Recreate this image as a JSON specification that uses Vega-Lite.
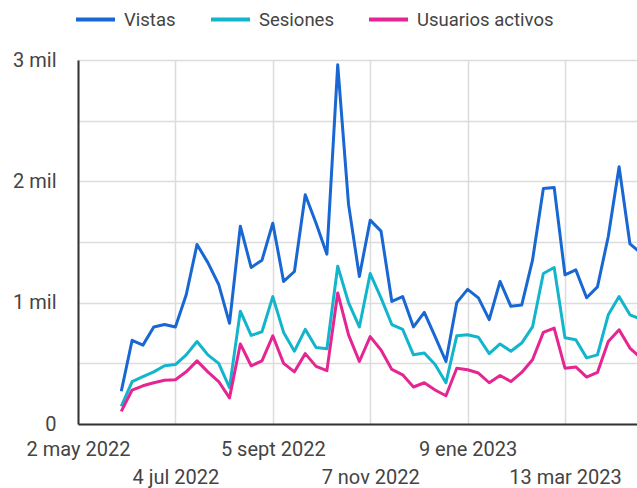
{
  "$schema": "https://vega.github.io/schema/vega-lite/v6.json",
  "width": 559,
  "height": 364,
  "autosize": "none",
  "padding": {"left": 78, "top": 60, "right": 0, "bottom": 64},
  "background": "white",
  "config": {
    "font": "Roboto",
    "view": {"stroke": null}
  },
  "data": {
    "values": [
      {"fecha": "2022-05-30", "Vistas": 270000, "Sesiones": 145000, "Usuarios activos": 104000},
      {"fecha": "2022-06-06", "Vistas": 690000, "Sesiones": 350000, "Usuarios activos": 280000},
      {"fecha": "2022-06-13", "Vistas": 650000, "Sesiones": 390000, "Usuarios activos": 315000},
      {"fecha": "2022-06-20", "Vistas": 800000, "Sesiones": 430000, "Usuarios activos": 340000},
      {"fecha": "2022-06-27", "Vistas": 820000, "Sesiones": 480000, "Usuarios activos": 360000},
      {"fecha": "2022-07-04", "Vistas": 800000, "Sesiones": 490000, "Usuarios activos": 365000},
      {"fecha": "2022-07-11", "Vistas": 1065000, "Sesiones": 570000, "Usuarios activos": 430000},
      {"fecha": "2022-07-18", "Vistas": 1480000, "Sesiones": 680000, "Usuarios activos": 520000},
      {"fecha": "2022-07-25", "Vistas": 1330000, "Sesiones": 570000, "Usuarios activos": 430000},
      {"fecha": "2022-08-01", "Vistas": 1150000, "Sesiones": 500000, "Usuarios activos": 350000},
      {"fecha": "2022-08-08", "Vistas": 830000, "Sesiones": 300000, "Usuarios activos": 215000},
      {"fecha": "2022-08-15", "Vistas": 1630000, "Sesiones": 930000, "Usuarios activos": 660000},
      {"fecha": "2022-08-22", "Vistas": 1290000, "Sesiones": 730000, "Usuarios activos": 480000},
      {"fecha": "2022-08-29", "Vistas": 1350000, "Sesiones": 760000, "Usuarios activos": 520000},
      {"fecha": "2022-09-05", "Vistas": 1655000, "Sesiones": 1050000, "Usuarios activos": 727000},
      {"fecha": "2022-09-12", "Vistas": 1175000, "Sesiones": 755000, "Usuarios activos": 500000},
      {"fecha": "2022-09-19", "Vistas": 1257000, "Sesiones": 600000, "Usuarios activos": 430000},
      {"fecha": "2022-09-26", "Vistas": 1890000, "Sesiones": 780000, "Usuarios activos": 580000},
      {"fecha": "2022-10-03", "Vistas": 1655000, "Sesiones": 630000, "Usuarios activos": 475000},
      {"fecha": "2022-10-10", "Vistas": 1400000, "Sesiones": 620000, "Usuarios activos": 440000},
      {"fecha": "2022-10-17", "Vistas": 2960000, "Sesiones": 1300000, "Usuarios activos": 1080000},
      {"fecha": "2022-10-24", "Vistas": 1810000, "Sesiones": 1000000, "Usuarios activos": 735000},
      {"fecha": "2022-10-31", "Vistas": 1216000, "Sesiones": 800000, "Usuarios activos": 515000},
      {"fecha": "2022-11-07", "Vistas": 1680000, "Sesiones": 1240000, "Usuarios activos": 720000},
      {"fecha": "2022-11-14", "Vistas": 1590000, "Sesiones": 1040000, "Usuarios activos": 610000},
      {"fecha": "2022-11-21", "Vistas": 1010000, "Sesiones": 820000, "Usuarios activos": 450000},
      {"fecha": "2022-11-28", "Vistas": 1050000, "Sesiones": 780000, "Usuarios activos": 405000},
      {"fecha": "2022-12-05", "Vistas": 800000, "Sesiones": 570000, "Usuarios activos": 305000},
      {"fecha": "2022-12-12", "Vistas": 920000, "Sesiones": 585000, "Usuarios activos": 340000},
      {"fecha": "2022-12-19", "Vistas": 720000, "Sesiones": 490000, "Usuarios activos": 280000},
      {"fecha": "2022-12-26", "Vistas": 515000, "Sesiones": 340000, "Usuarios activos": 233000},
      {"fecha": "2023-01-02", "Vistas": 1000000, "Sesiones": 727000, "Usuarios activos": 460000},
      {"fecha": "2023-01-09", "Vistas": 1110000, "Sesiones": 735000, "Usuarios activos": 447000},
      {"fecha": "2023-01-16", "Vistas": 1040000, "Sesiones": 715000, "Usuarios activos": 420000},
      {"fecha": "2023-01-23", "Vistas": 860000, "Sesiones": 580000, "Usuarios activos": 340000},
      {"fecha": "2023-01-30", "Vistas": 1175000, "Sesiones": 660000, "Usuarios activos": 400000},
      {"fecha": "2023-02-06", "Vistas": 970000, "Sesiones": 600000, "Usuarios activos": 350000},
      {"fecha": "2023-02-13", "Vistas": 980000, "Sesiones": 667000, "Usuarios activos": 425000},
      {"fecha": "2023-02-20", "Vistas": 1350000, "Sesiones": 800000, "Usuarios activos": 530000},
      {"fecha": "2023-02-27", "Vistas": 1940000, "Sesiones": 1240000, "Usuarios activos": 755000},
      {"fecha": "2023-03-06", "Vistas": 1950000, "Sesiones": 1290000, "Usuarios activos": 790000},
      {"fecha": "2023-03-13", "Vistas": 1230000, "Sesiones": 710000, "Usuarios activos": 460000},
      {"fecha": "2023-03-20", "Vistas": 1270000, "Sesiones": 695000, "Usuarios activos": 470000},
      {"fecha": "2023-03-27", "Vistas": 1040000, "Sesiones": 545000, "Usuarios activos": 387000},
      {"fecha": "2023-04-03", "Vistas": 1130000, "Sesiones": 570000, "Usuarios activos": 425000},
      {"fecha": "2023-04-10", "Vistas": 1545000, "Sesiones": 900000, "Usuarios activos": 680000},
      {"fecha": "2023-04-17", "Vistas": 2120000, "Sesiones": 1050000, "Usuarios activos": 777000},
      {"fecha": "2023-04-24", "Vistas": 1485000, "Sesiones": 900000, "Usuarios activos": 626000},
      {"fecha": "2023-05-01", "Vistas": 1410000, "Sesiones": 865000, "Usuarios activos": 544000}
    ]
  },
  "transform": [
    {"fold": ["Vistas", "Sesiones", "Usuarios activos"], "as": ["serie", "valor"]}
  ],
  "mark": {"type": "line", "strokeWidth": 3, "strokeJoin": "round", "clip": true},
  "encoding": {
    "x": {
      "field": "fecha",
      "type": "temporal",
      "scale": {
        "type": "utc",
        "domain": [
          {"year": 2022, "month": 5, "date": 2, "utc": true},
          {"year": 2023, "month": 4, "date": 28, "hours": 14, "utc": true}
        ]
      },
      "axis": {
        "title": null,
        "values": [
          {"year": 2022, "month": 5, "date": 2, "utc": true},
          {"year": 2022, "month": 7, "date": 4, "utc": true},
          {"year": 2022, "month": 9, "date": 5, "utc": true},
          {"year": 2022, "month": 11, "date": 7, "utc": true},
          {"year": 2023, "month": 1, "date": 9, "utc": true},
          {"year": 2023, "month": 3, "date": 13, "utc": true}
        ],
        "labelExpr": "(utcmonth(datum.value) % 4 == 0) ? [utcdate(datum.value) + ' ' + ['ene','feb','mar','abr','may','jun','jul','ago','sept','oct','nov','dic'][utcmonth(datum.value)] + ' ' + utcyear(datum.value)] : ['', utcdate(datum.value) + ' ' + ['ene','feb','mar','abr','may','jun','jul','ago','sept','oct','nov','dic'][utcmonth(datum.value)] + ' ' + utcyear(datum.value)]",
        "labelFontSize": 20,
        "labelColor": "#444444",
        "labelLineHeight": 28,
        "labelBaseline": "top",
        "labelAlign": "center",
        "labelPadding": 15,
        "labelOverlap": false,
        "labelFlush": false,
        "labelBound": false,
        "ticks": false,
        "tickSize": 0,
        "grid": true,
        "gridColor": "#dcdcdc",
        "gridWidth": 1.5,
        "domainColor": "#333333",
        "domainWidth": 2
      }
    },
    "y": {
      "field": "valor",
      "type": "quantitative",
      "scale": {"domain": [0, 3000000], "nice": false},
      "axis": {
        "title": null,
        "values": [0, 500000, 1000000, 1500000, 2000000, 2500000, 3000000],
        "labelExpr": "datum.value == 0 ? '0' : (datum.value % 1000000 == 0 ? (datum.value / 1000000) + ' mil' : '')",
        "labelFontSize": 20,
        "labelColor": "#444444",
        "labelPadding": 22,
        "ticks": false,
        "tickSize": 0,
        "grid": true,
        "gridColor": "#dcdcdc",
        "gridWidth": 1.5,
        "domainColor": "#333333",
        "domainWidth": 2
      }
    },
    "color": {
      "field": "serie",
      "type": "nominal",
      "scale": {
        "domain": ["Vistas", "Sesiones", "Usuarios activos"],
        "range": ["#1967d2", "#12b5cb", "#e52592"]
      },
      "legend": {
        "title": null,
        "orient": "none",
        "direction": "horizontal",
        "legendX": -4,
        "legendY": -62,
        "symbolType": "stroke",
        "symbolSize": 1521,
        "symbolStrokeWidth": 4,
        "labelFontSize": 18.5,
        "labelColor": "#444444",
        "labelOffset": 7,
        "labelLimit": 300,
        "columnPadding": 27
      }
    }
  }
}
